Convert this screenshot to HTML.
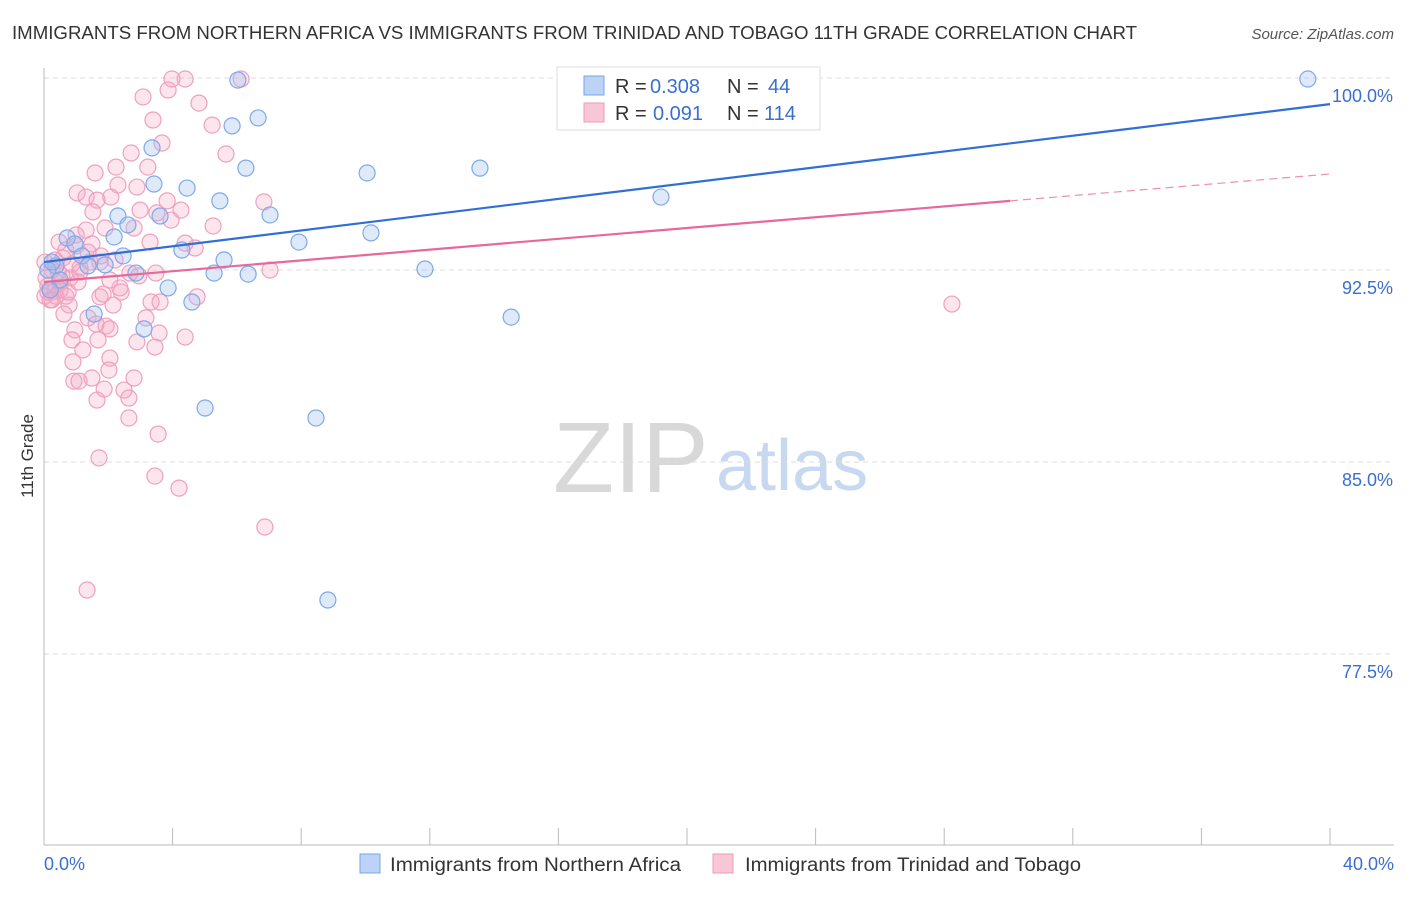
<!DOCTYPE html>
<html><head><meta charset="utf-8"><style>
body{margin:0;background:#fff;font-family:"Liberation Sans",sans-serif;}
svg text{font-family:"Liberation Sans",sans-serif;}
</style></head><body>
<svg id="chart" width="1406" height="892" xmlns="http://www.w3.org/2000/svg">
<text x="12" y="39" font-size="18.6" fill="#333" textLength="1125" lengthAdjust="spacingAndGlyphs">IMMIGRANTS FROM NORTHERN AFRICA VS IMMIGRANTS FROM TRINIDAD AND TOBAGO 11TH GRADE CORRELATION CHART</text>
<text x="1394" y="39" font-size="15" fill="#555" text-anchor="end" font-style="italic">Source: ZipAtlas.com</text>
<text x="553" y="492" font-size="100" fill="#d8d8d8" font-family="Liberation Serif">ZIP</text>
<text x="716" y="490" font-size="72" fill="#c8d8f0">atlas</text>
<text transform="translate(33,456) rotate(-90)" font-size="17" fill="#333" text-anchor="middle">11th Grade</text>
<g id="grid"></g><g id="axes"></g><g id="pts"></g><g id="lines"></g>
<g>
<rect x="557" y="67" width="263" height="63" fill="#fff" stroke="#ddd"/>
<rect x="584" y="76" width="20" height="19" fill="#bcd3f5" stroke="#7aa6e8"/>
<text x="615" y="93" font-size="20" fill="#333">R =</text>
<text x="650" y="93" font-size="20" fill="#3a6fd0">0.308</text>
<text x="727" y="93" font-size="20" fill="#333">N =</text>
<text x="768" y="93" font-size="20" fill="#3a6fd0">44</text>
<rect x="584" y="103" width="20" height="19" fill="#f9c6d5" stroke="#ef9ab8"/>
<text x="615" y="120" font-size="20" fill="#333">R =</text>
<text x="653" y="120" font-size="20" fill="#3a6fd0">0.091</text>
<text x="727" y="120" font-size="20" fill="#333">N =</text>
<text x="764" y="120" font-size="20" fill="#3a6fd0">114</text>
</g>
<g>
<rect x="360" y="854" width="20" height="19" fill="#bcd3f5" stroke="#7aa6e8"/>
<text x="390" y="871" font-size="19" fill="#333" textLength="291" lengthAdjust="spacingAndGlyphs">Immigrants from Northern Africa</text>
<rect x="713" y="854" width="20" height="19" fill="#f9c6d5" stroke="#ef9ab8"/>
<text x="745" y="871" font-size="19" fill="#333" textLength="336" lengthAdjust="spacingAndGlyphs">Immigrants from Trinidad and Tobago</text>
</g>
</svg>
<script>
const blueX=[6.03,6.66,5.85,3.36,6.28,10.05,13.56,3.42,4.45,5.47,19.19,7.03,2.30,3.61,2.61,0.72,2.18,0.96,10.17,7.93,4.29,2.46,1.18,5.60,1.90,1.37,0.37,0.12,2.86,6.35,5.29,11.85,3.86,4.60,14.53,1.56,3.11,5.01,8.46,8.83,39.31,0.25,0.50,0.19];
const blueY=[99.92,98.44,98.13,97.27,96.48,96.29,96.48,95.86,95.70,95.20,95.35,94.65,94.61,94.61,94.26,93.75,93.79,93.52,93.95,93.59,93.28,93.05,93.05,92.89,92.70,92.66,92.66,92.50,92.38,92.34,92.38,92.54,91.80,91.25,90.66,90.78,90.20,87.11,86.72,79.61,99.96,92.81,92.11,91.72];
const pinkX=[3.98,4.39,6.13,3.86,3.08,4.82,3.39,5.23,3.67,5.66,2.71,3.23,2.24,1.59,6.84,2.30,2.89,1.03,1.31,2.08,1.65,4.26,3.51,1.52,3.95,2.80,1.90,5.26,1.00,3.30,4.39,4.70,0.47,1.49,0.68,1.37,1.77,2.21,2.67,7.03,3.48,1.12,0.81,1.06,0.50,0.12,0.34,0.68,0.19,0.78,1.74,2.40,4.76,3.33,3.61,2.15,0.62,1.37,3.17,1.93,1.62,2.05,0.96,3.58,4.39,0.87,1.68,2.89,3.45,1.21,2.05,0.90,2.02,1.49,2.80,0.93,1.09,2.49,1.87,2.64,1.65,2.64,3.55,1.71,3.45,4.20,6.87,1.34,28.24,0.03,0.25,0.44,0.06,0.56,0.12,0.37,0.75,0.59,0.87,1.12,1.43,0.34,0.50,0.03,0.25,1.00,2.36,2.95,1.84,1.31,2.99,3.83,1.74,2.05];
const pinkY=[99.96,99.96,99.96,99.53,99.26,99.02,98.36,98.16,97.46,97.03,97.07,96.52,96.52,96.29,95.16,95.82,95.74,95.51,95.35,95.35,95.23,94.84,94.73,94.77,94.45,94.14,94.14,94.22,93.87,93.59,93.55,93.36,93.59,93.52,93.28,93.20,93.05,92.89,92.38,92.50,92.38,92.58,92.19,92.03,91.99,91.88,91.68,91.48,91.33,91.13,91.45,91.64,91.45,91.25,91.25,91.13,90.78,90.63,90.63,90.31,90.39,90.20,90.16,90.04,89.88,89.77,89.77,89.69,89.49,89.38,89.06,88.91,88.59,88.28,88.28,88.16,88.16,87.81,87.85,87.50,87.42,86.72,86.09,85.16,84.45,83.98,82.46,80.00,91.17,92.81,92.50,92.42,92.19,92.27,91.64,91.48,91.64,92.97,92.73,92.42,92.81,92.89,91.72,91.48,91.33,93.44,91.80,92.27,91.56,94.06,94.84,95.20,92.81,92.11];
const yTicks=[100,92.5,85,77.5];
const yTickLabels=["100.0%","92.5%","85.0%","77.5%"];
const xTickVals=[0,4,8,12,16,20,24,28,32,36,40];
const blueTrend=[92.81,98.98];
const pinkTrend=[92.03,96.25];
const pinkSolidEnd=30.05;
const X=v=>44+v*(1286/40), Y=v=>78+(100-v)*25.6;
const NS="http://www.w3.org/2000/svg";
function mk(t,a,p){const e=document.createElementNS(NS,t);for(const k in a)e.setAttribute(k,a[k]);p.appendChild(e);return e;}
const grid=document.getElementById('grid'),axes=document.getElementById('axes'),pts=document.getElementById('pts'),lines=document.getElementById('lines');
yTicks.forEach((v,i)=>{
 const l=mk('line',{x1:44,x2:1394,y1:Y(v),y2:Y(v),stroke:'#ddd','stroke-dasharray':'5,4'},grid);
 
 
 const t=mk('text',{x:1393,y:Y(v)+24,'font-size':18,fill:'#3a6fd0','text-anchor':'end'},axes);
 t.textContent=yTickLabels[i];
 
 
});
const ya=mk('line',{x1:44,x2:44,y1:68,y2:845,stroke:'#bbb'},axes);


const xa=mk('line',{x1:44,x2:1394,y1:845,y2:845,stroke:'#bbb'},axes);


xTickVals.forEach(v=>{
 const t=mk('line',{x1:X(v),x2:X(v),y1:828,y2:845,stroke:'#bbb'},axes);
 
 
});
[[0,"0.0%",'start',44],[40,"40.0%",'end',1394]].forEach(d=>{
 const t=mk('text',{x:d[3],y:870,'font-size':18,fill:'#3a6fd0','text-anchor':d[2]},axes);
 t.textContent=d[1];
 
 
});
pinkX.forEach((x,i)=>{
 const c=mk('circle',{cx:X(x),cy:Y(pinkY[i]),r:8,fill:'rgba(246,170,196,0.3)',stroke:'#efa0bd','stroke-width':1.2},pts);
 
 
});
blueX.forEach((x,i)=>{
 const c=mk('circle',{cx:X(x),cy:Y(blueY[i]),r:8,fill:'rgba(160,192,242,0.35)',stroke:'#7fa9e8','stroke-width':1.2},pts);
 
 
});
const bl=mk('line',{x1:X(0),y1:Y(blueTrend[0]),x2:X(40),y2:Y(blueTrend[1]),stroke:'#2f6fd6','stroke-width':2.2},lines);


const pm=pinkTrend[0]+(pinkTrend[1]-pinkTrend[0])*pinkSolidEnd/40;
const pl=mk('line',{x1:X(0),y1:Y(pinkTrend[0]),x2:X(pinkSolidEnd),y2:Y(pm),stroke:'#e8689a','stroke-width':2.2},lines);


const pd=mk('line',{x1:X(pinkSolidEnd),y1:Y(pm),x2:X(40),y2:Y(pinkTrend[1]),stroke:'#eb8fb2','stroke-width':1.2,'stroke-dasharray':'8,5'},lines);


</script>
</body></html>
